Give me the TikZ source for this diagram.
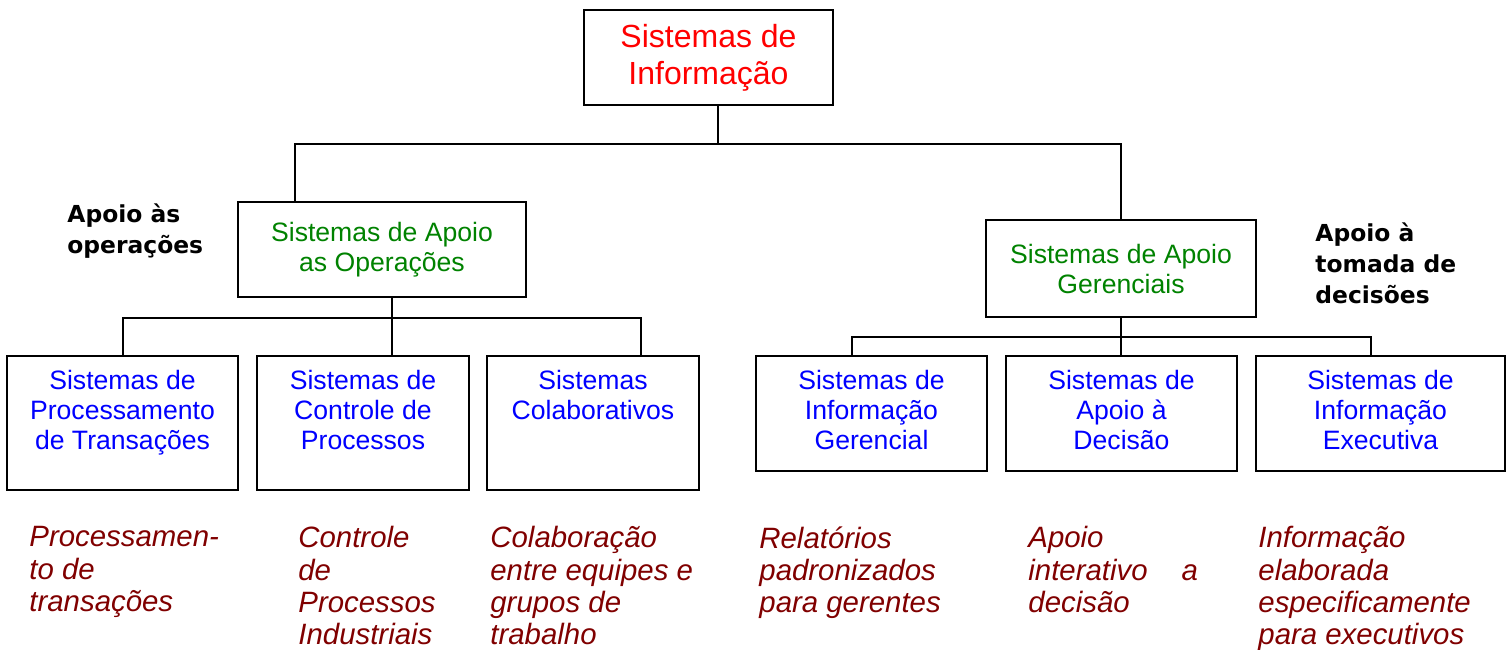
\documentclass[tikz,border=0pt]{standalone}
\usepackage{fontspec}
\setmainfont{Liberation Sans}
\newfontfamily\labelfont{DejaVu Sans}
\usetikzlibrary{positioning}

\definecolor{titlered}{RGB}{255,0,0}
\definecolor{midgreen}{RGB}{0,130,0}
\definecolor{leafblue}{RGB}{0,0,255}
\definecolor{notered}{RGB}{128,0,0}

\begin{document}
\begin{tikzpicture}[x=0.5pt,y=-0.5pt,
  box/.style={draw=black, line width=1.1pt, inner sep=0pt},
  boxtext/.style={align=center, font=\fontsize{13.3}{15}\selectfont},
  leaf/.style={box, minimum width=#1},
  leaftext/.style={boxtext, leafblue, anchor=north, inner sep=0pt, yshift=-7.7pt},
  note/.style={anchor=north west, align=left, inner sep=0pt, notered,
    font=\fontsize{14.7}{16.2}\selectfont\itshape},
  side/.style={anchor=north west, align=left, inner sep=0pt,
    font=\labelfont\bfseries\fontsize{11.7}{15.5}\selectfont},
  link/.style={line width=1pt}]

\useasboundingbox (0,0) rectangle (1512,649);

% Top of the tree
\node[box, boxtext, minimum width=124.5pt, minimum height=47.5pt, text=titlered,
  font=\fontsize{16}{18.5}\selectfont] (sinfo) at (708.5,57.5) {Sistemas de\\Informação};

% Second level
\node[box, boxtext, minimum width=144pt, minimum height=47.5pt, text=midgreen] (sao) at (382,249.5)
  {Sistemas de Apoio\\as Operações};
\node[box, boxtext, minimum width=135pt, minimum height=48.5pt, text=midgreen] (sag) at (1121,268.5)
  {Sistemas de Apoio\\Gerenciais};

\node[side] (lops) at (67,203) {Apoio às\\operações};
\node[side] (ldec) at (1315,222) {Apoio à\\tomada de\\decisões};

% Leaves under the operations side
\node[leaf=115.5pt, minimum height=67pt] (sptrans) at (122.5,423) {};
\node[leaf=106pt, minimum height=67pt] (sctrl) at (363,423) {};
\node[leaf=106pt, minimum height=67pt] (scolab) at (593,423) {};
\node[leaftext] (tptrans) at (sptrans.north) {Sistemas de\\Processamento\\de Transações};
\node[leaftext] (tctrl) at (sctrl.north) {Sistemas de\\Controle de\\Processos};
\node[leaftext] (tcolab) at (scolab.north) {Sistemas\\Colaborativos};

% Leaves under the management side
\node[leaf=115.5pt, minimum height=57.5pt] (sig) at (871.5,413.5) {};
\node[leaf=115.5pt, minimum height=57.5pt] (sad) at (1121.5,413.5) {};
\node[leaf=124.5pt, minimum height=57.5pt] (sie) at (1380.5,413.5) {};
\node[leaftext] (tig) at (sig.north) {Sistemas de\\Informação\\Gerencial};
\node[leaftext] (tad) at (sad.north) {Sistemas de\\Apoio à\\Decisão};
\node[leaftext] (tie) at (sie.north) {Sistemas de\\Informação\\Executiva};

% Connectors
\coordinate (topbus) at (718,144);
\draw[link] (sinfo.south -| topbus) -- (topbus);
\draw[link] ([xshift=-43.5pt]sao.north) |- (topbus) -| (sag.north);

\draw[link] ([xshift=5pt]sao.south) -- ++(0,-10pt) coordinate (leftbus);
\draw[link] (sptrans.north) |- (leftbus) -| ([xshift=24pt]scolab.north);
\draw[link] (leftbus) -- (sctrl.north -| leftbus);

\draw[link] (sag.south) -- ++(0,-9.5pt) coordinate (rightbus);
\draw[link] ([xshift=-9.75pt]sig.north) |- (rightbus) -| ([xshift=-4.75pt]sie.north);
\draw[link] (rightbus) -- (sad.north -| rightbus);

% Notes under the leaves
\node[note] (nptrans) at (29,526) {Processamen-\\to de\\transações};
\node[note] (nctrl) at (298,526) {Controle\\de\\Processos\\Industriais};
\node[note] (ncolab) at (490,526) {Colaboração\\entre equipes e\\grupos de\\trabalho};
\node[note] (nig) at (759,526) {Relatórios\\padronizados\\para gerentes};
\node[note] (nad) at (1028,526) {Apoio\\interativo\hspace{17pt}a\\decisão};
\node[note] (nie) at (1258,526) {Informação\\elaborada\\especificamente\\para executivos};

\end{tikzpicture}
\end{document}
